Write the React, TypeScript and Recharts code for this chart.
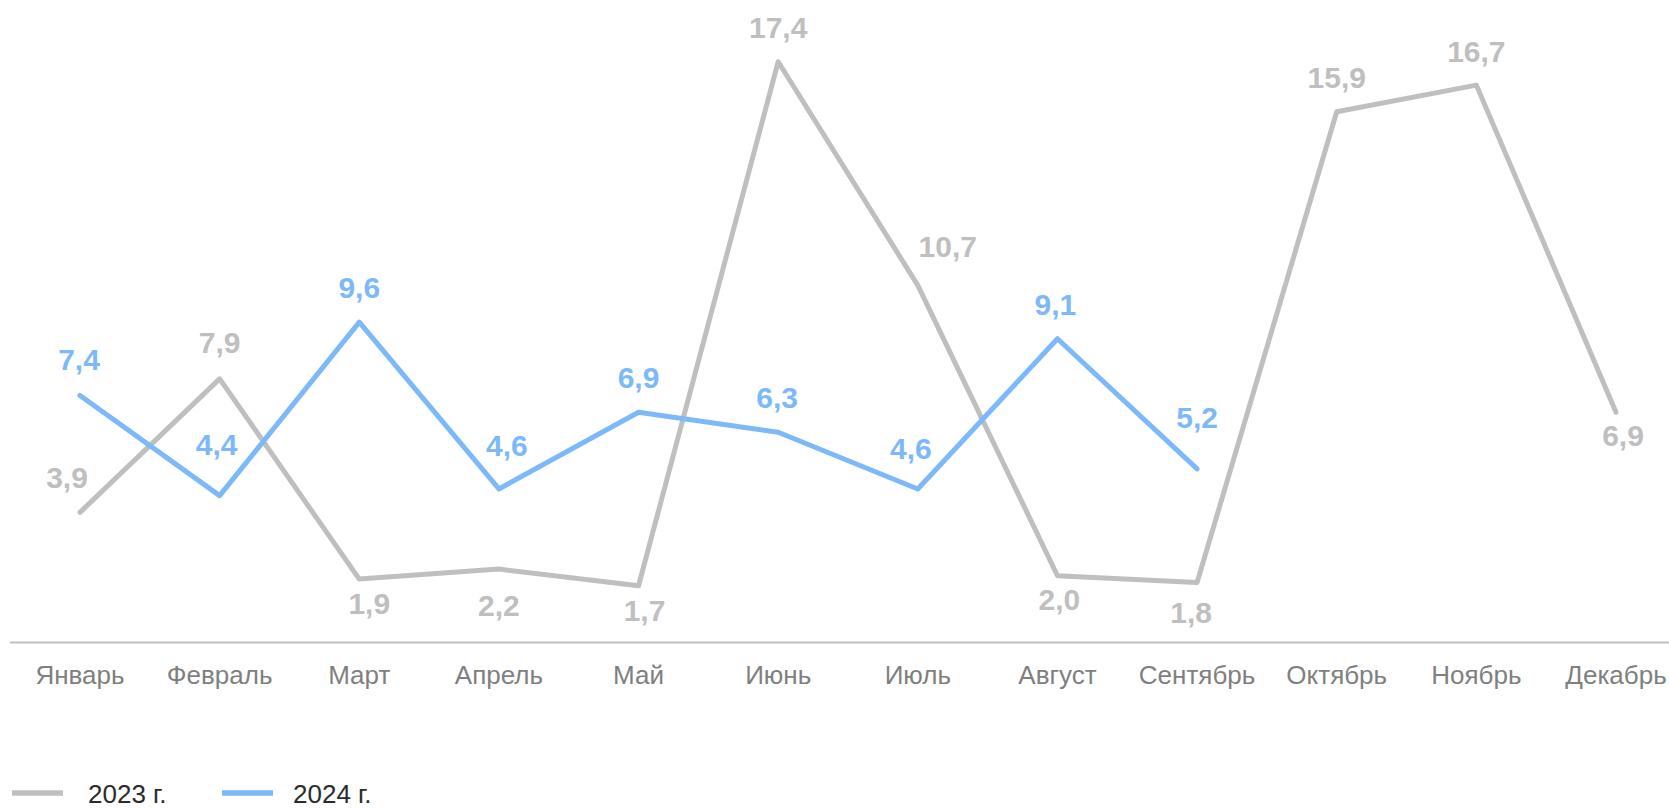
import { LineChart, Line, XAxis, YAxis, LabelList } from 'recharts'

const months = ['Январь', 'Февраль', 'Март', 'Апрель', 'Май', 'Июнь', 'Июль', 'Август', 'Сентябрь', 'Октябрь', 'Ноябрь', 'Декабрь']
const values2023 = [3.9, 7.9, 1.9, 2.2, 1.7, 17.4, 10.7, 2.0, 1.8, 15.9, 16.7, 6.9]
const values2024 = [7.4, 4.4, 9.6, 4.6, 6.9, 6.3, 4.6, 9.1, 5.2, null, null, null]
const seriesNames = ['2023 г.', '2024 г.']

// label centre offsets from each point, [dx, dy]
const offsets2023 = [[-13, -35], [0, -37], [10, 24], [0, 36], [6, 25], [0, -34], [30, -39], [2, 24], [-6, 30], [0, -35], [0, -34], [7, 23]]
const offsets2024 = [[-1, -36], [-3, -51], [0, -35], [8, -44], [0, -35], [-1, -35], [-7, -41], [-2, -34], [0, -52]]

const GRAY = '#bfbfbf'
const BLUE = '#7db9f8'
const FONT = '"Liberation Sans", Arial, sans-serif'

const data = months.map((m, i) => ({ month: m, y2023: values2023[i], y2024: values2024[i] }))

const fmt = (v: number) => v.toFixed(1).replace('.', ',')

function makeLabel(offsets: number[][], color: string) {
  return (props: any) => {
    const { x, y, value, index } = props
    if (value == null) return null
    const [dx, dy] = offsets[index] || [0, -35]
    return (
      <text x={x + dx} y={y + dy + 10.7} textAnchor="middle" fill={color} fontSize={30} fontWeight="bold" fontFamily={FONT}>
        {fmt(value)}
      </text>
    )
  }
}

function MonthTick({ x, y, payload }: any) {
  return (
    <text x={x} y={y + 41.5} textAnchor="middle" fill="#7f7f7f" fontSize={26} fontFamily={FONT}>
      {payload.value}
    </text>
  )
}

export default function App() {
  return (
    <div style={{ position: 'absolute', left: 0, top: 0, width: 1669, height: 809, background: '#fff', fontFamily: FONT }}>
      <LineChart width={1669} height={809} data={data} margin={{ top: 0, right: 0, left: 10, bottom: 106.5 }}>
        <XAxis
          dataKey="month"
          scale="point"
          padding={{ left: 70, right: 53 }}
          height={60}
          tickSize={0}
          tickMargin={0}
          tick={<MonthTick />}
          axisLine={{ stroke: GRAY, strokeWidth: 2 }}
          interval={0}
        />
        <YAxis hide domain={[0, 19.25]} />
        <Line
          dataKey="y2023"
          name={seriesNames[0]}
          stroke={GRAY}
          strokeWidth={5}
          strokeLinecap="round"
          strokeLinejoin="round"
          dot={false}
          activeDot={false}
          isAnimationActive={false}
        >
          <LabelList dataKey="y2023" content={makeLabel(offsets2023, GRAY)} />
        </Line>
        <Line
          dataKey="y2024"
          name={seriesNames[1]}
          stroke={BLUE}
          strokeWidth={5}
          strokeLinecap="round"
          strokeLinejoin="round"
          dot={false}
          activeDot={false}
          isAnimationActive={false}
        >
          <LabelList dataKey="y2024" content={makeLabel(offsets2024, BLUE)} />
        </Line>
      </LineChart>
      <svg width={450} height={39} style={{ position: 'absolute', left: 0, top: 770 }}>
        <line x1={12} x2={63} y1={23} y2={23} stroke={GRAY} strokeWidth={5.5} />
        <text x={88} y={33} fontSize={26} fill="#2b2b2b" fontFamily={FONT}>{seriesNames[0]}</text>
        <line x1={222} x2={273} y1={23} y2={23} stroke={BLUE} strokeWidth={5.5} />
        <text x={293} y={33} fontSize={26} fill="#2b2b2b" fontFamily={FONT}>{seriesNames[1]}</text>
      </svg>
    </div>
  )
}
